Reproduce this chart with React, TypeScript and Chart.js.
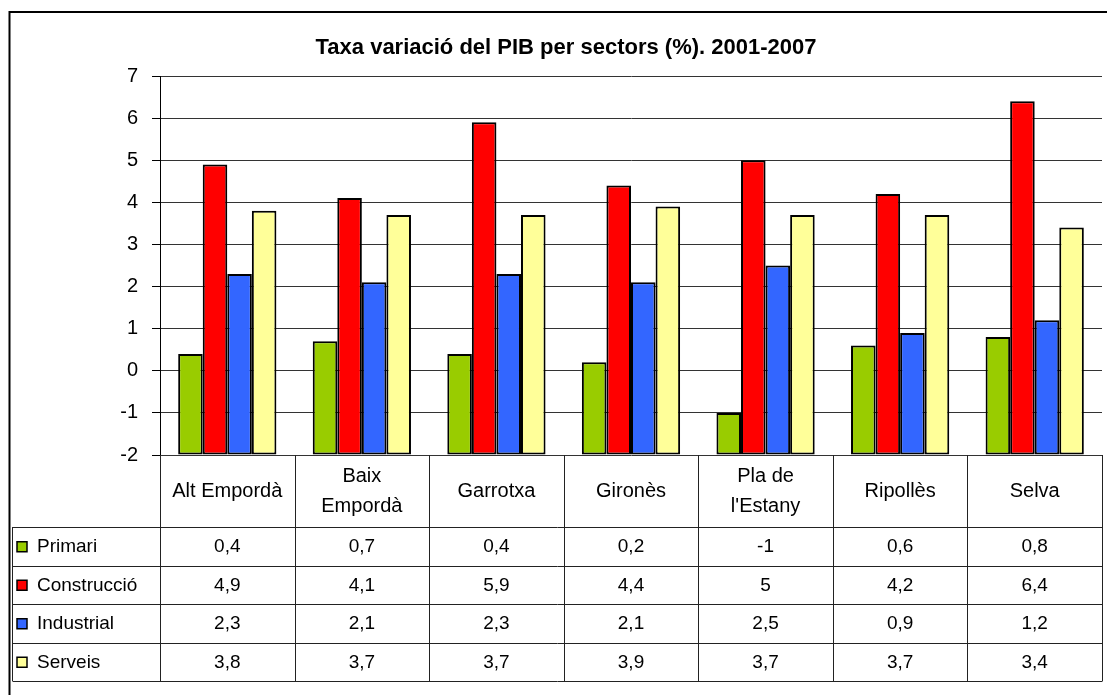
import React, { useEffect, useRef } from "react";
import { Chart, registerables } from "chart.js";

Chart.register(...registerables);

const FONT = "'Liberation Sans', Arial, sans-serif";

const title = "Taxa variació del PIB per sectors (%). 2001-2007";
const categories: string[][] = [
  ["Alt Empordà"],
  ["Baix", "Empordà"],
  ["Garrotxa"],
  ["Gironès"],
  ["Pla de", "l'Estany"],
  ["Ripollès"],
  ["Selva"],
];
const seriesNames = ["Primari", "Construcció", "Industrial", "Serveis"];
const primari = [0.4, 0.7, 0.4, 0.2, -1, 0.6, 0.8];
const construccio = [4.9, 4.1, 5.9, 4.4, 5, 4.2, 6.4];
const industrial = [2.3, 2.1, 2.3, 2.1, 2.5, 0.9, 1.2];
const serveis = [3.8, 3.7, 3.7, 3.9, 3.7, 3.7, 3.4];
const seriesValues = [primari, construccio, industrial, serveis];
const seriesColors = ["#99CC00", "#FF0000", "#3366FF", "#FFFF99"];
const yMin = -2;
const yMax = 7;
const yStep = 1;

const fmt = (v: number) => String(v).replace(".", ",");

const tablePlugin = {
  id: "dataTable",
  afterDraw(chart: any) {
    const ctx = chart.ctx as CanvasRenderingContext2D;
    const xs = chart.scales.x;
    const ca = chart.chartArea;
    const n = categories.length;
    const colW = xs.getPixelForValue(1) - xs.getPixelForValue(0);
    const edges: number[] = [];
    for (let i = 0; i < n; i++) edges.push(xs.getPixelForValue(i) - colW / 2);
    edges.push(xs.getPixelForValue(n - 1) + colW / 2);
    const headerTop = ca.bottom;
    const headerBottom = headerTop + 72;
    const rowH = 38.5;
    const tableBottom = headerBottom + rowH * seriesNames.length;
    const tableLeft = 12.5;
    const rightEdge = Math.round(edges[n]) + 0.5;

    ctx.save();
    // outer frame
    ctx.strokeStyle = "#000";
    ctx.lineWidth = 2;
    ctx.strokeRect(9.5, 12, 1400, 1000);

    // table lines
    ctx.strokeStyle = "#222";
    ctx.lineWidth = 1;
    ctx.beginPath();
    for (let i = 0; i <= n; i++) {
      const x = i === n ? rightEdge : Math.round(edges[i]) + 0.5;
      ctx.moveTo(x, headerTop);
      ctx.lineTo(x, tableBottom);
    }
    ctx.moveTo(tableLeft, headerBottom);
    ctx.lineTo(tableLeft, tableBottom);
    for (let r = 0; r <= seriesNames.length; r++) {
      const y = Math.round(headerBottom + r * rowH) + 0.5;
      ctx.moveTo(tableLeft, y);
      ctx.lineTo(rightEdge, y);
    }
    ctx.stroke();

    // header labels
    ctx.fillStyle = "#000";
    ctx.textAlign = "center";
    ctx.textBaseline = "middle";
    ctx.font = `20px ${FONT}`;
    const headerMid = (headerTop + headerBottom) / 2;
    categories.forEach((lines, i) => {
      const cx = xs.getPixelForValue(i);
      const lh = 30;
      const y0 = headerMid - ((lines.length - 1) * lh) / 2;
      lines.forEach((t, k) => ctx.fillText(t, cx, y0 + k * lh));
    });

    // rows
    ctx.font = `19px ${FONT}`;
    seriesNames.forEach((name, r) => {
      const cy = headerBottom + r * rowH + rowH / 2;
      ctx.fillStyle = seriesColors[r];
      ctx.fillRect(17, cy - 4.5, 10, 10);
      ctx.strokeStyle = "#000";
      ctx.lineWidth = 1.5;
      ctx.strokeRect(17, cy - 4.5, 10, 10);
      ctx.fillStyle = "#000";
      ctx.textAlign = "left";
      ctx.fillText(name, 37, cy + 1);
      ctx.textAlign = "center";
      seriesValues[r].forEach((v, i) => {
        ctx.fillText(fmt(v), xs.getPixelForValue(i), cy + 1);
      });
    });
    ctx.restore();
  },
};

export default function App() {
  const ref = useRef<HTMLCanvasElement | null>(null);
  useEffect(() => {
    if (!ref.current) return;
    Chart.defaults.font.family = FONT;
    const chart = new Chart(ref.current, {
      type: "bar",
      data: {
        labels: categories,
        datasets: seriesNames.map((name, i) => ({
          label: name,
          data: seriesValues[i],
          backgroundColor: seriesColors[i],
          borderColor: "#000",
          borderWidth: 2,
          borderSkipped: false,
          base: yMin,
          categoryPercentage: 0.73,
          barPercentage: 1,
        })),
      },
      options: {
        responsive: false,
        maintainAspectRatio: false,
        animation: false,
        layout: { padding: { top: 0, left: 30, right: 5, bottom: 240 } },
        plugins: {
          legend: { display: false },
          tooltip: { enabled: false },
          title: {
            display: true,
            text: title,
            color: "#000",
            font: { family: FONT, size: 22, weight: "bold" },
            padding: { top: 35, bottom: 14.6 },
          },
        },
        scales: {
          x: {
            type: "category",
            grid: { display: false },
            ticks: { display: false },
            border: { display: false },
            afterFit: (s: any) => {
              s.height = 0;
            },
          },
          y: {
            min: yMin,
            max: yMax,
            ticks: {
              stepSize: yStep,
              color: "#000",
              font: { family: FONT, size: 20 },
              padding: 14,
            },
            grid: {
              color: "#333",
              lineWidth: 1,
              tickLength: 8,
              tickColor: "#000",
            },
            border: { display: true, color: "#000", width: 1 },
            afterFit: (s: any) => {
              s.width = 130;
            },
          },
        },
      },
      plugins: [tablePlugin],
    });
    return () => chart.destroy();
  }, []);
  return (
    <div style={{ position: "absolute", left: 0, top: 0, width: 1107, height: 695, background: "#fff" }}>
      <canvas ref={ref} width={1107} height={695} style={{ display: "block" }} />
    </div>
  );
}
